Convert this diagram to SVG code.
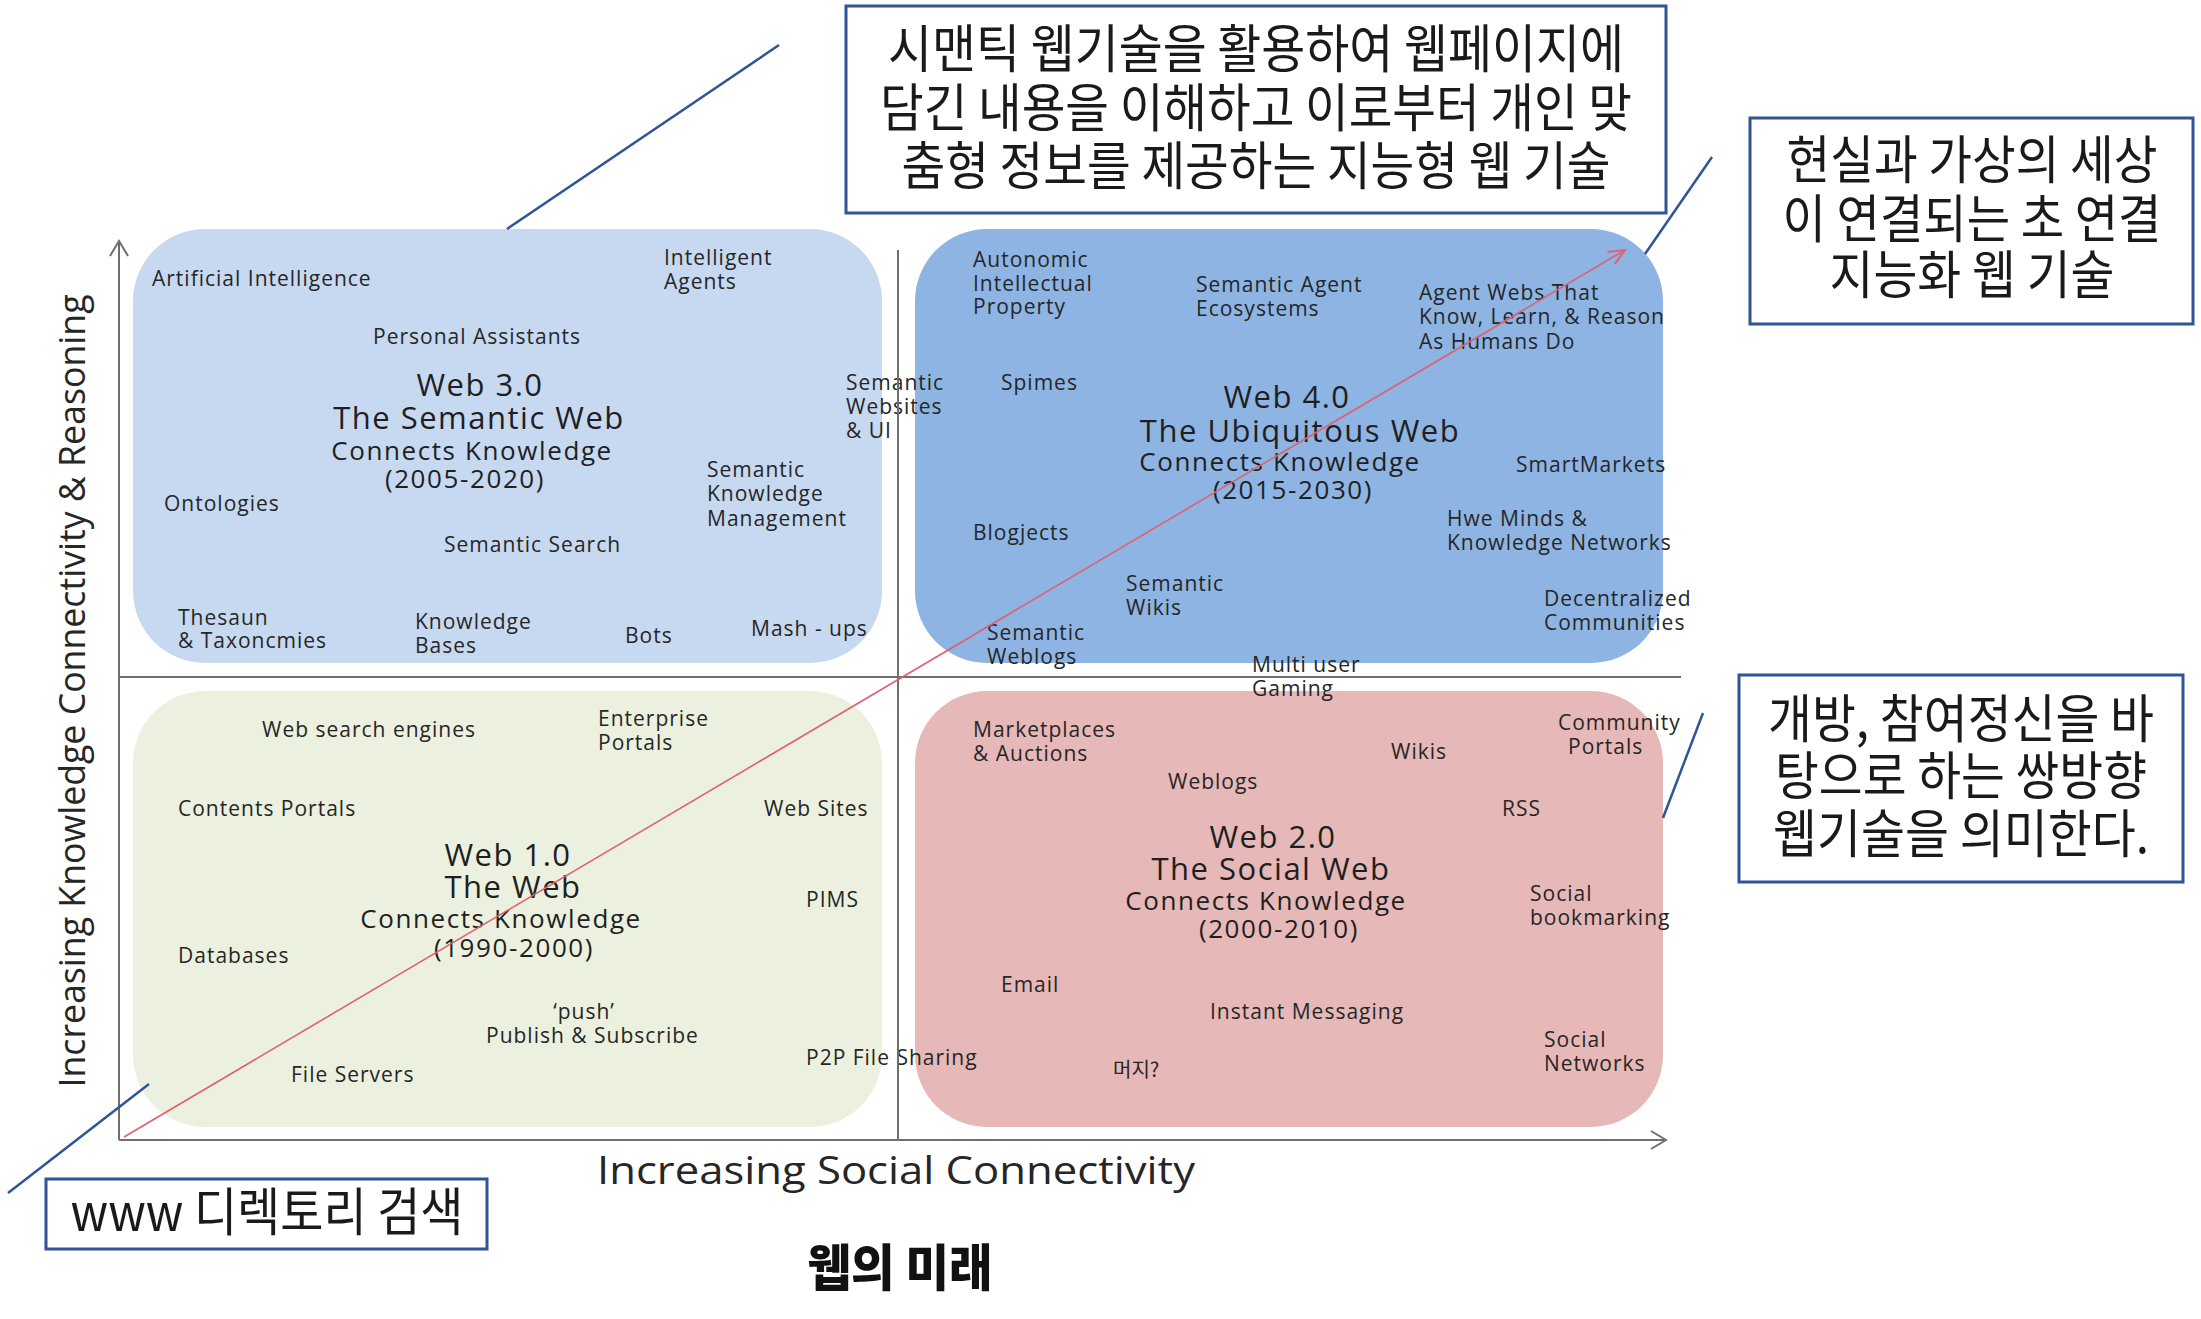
<svg xmlns="http://www.w3.org/2000/svg" width="2201" height="1319" viewBox="0 0 2201 1319">
<style>
.lbl{font-family:"Open Sans","Liberation Sans",sans-serif;font-size:21px;letter-spacing:1px;fill:#262626}
.kl{font-family:"Noto Sans CJK KR",sans-serif;font-size:20px;fill:#262626}
.t1{font-family:"Open Sans","Liberation Sans",sans-serif;font-size:31px;letter-spacing:1.5px;fill:#1f1f1f;text-anchor:middle}
.t2{font-family:"Open Sans","Liberation Sans",sans-serif;font-size:26px;letter-spacing:1.6px;fill:#1f1f1f;text-anchor:middle}
.ax{font-family:"Open Sans","Liberation Sans",sans-serif;fill:#262626;text-anchor:middle}
.co{font-family:"Noto Sans CJK KR",sans-serif;font-size:52px;fill:#1a1a1a;text-anchor:middle}
.cbox{fill:#ffffff;stroke:#2f5597;stroke-width:3}
.cl{stroke:#2f5597;stroke-width:2.5;fill:none}
.axis{stroke:#6f6f6f;stroke-width:2;fill:none}
</style>
<defs>
<marker id="redarrow" viewBox="0 0 20 20" refX="18" refY="10" markerWidth="20" markerHeight="20" markerUnits="userSpaceOnUse" orient="auto">
<path d="M2,3 L18,10 L2,17" fill="none" stroke="#e06070" stroke-width="2"/>
</marker>
</defs>
<rect width="2201" height="1319" fill="#ffffff"/>

<g id="web40">
<rect x="915" y="229" width="748" height="434" rx="72" fill="#8db4e2"/>
<text class="lbl" x="973" y="267">Autonomic</text>
<text class="lbl" x="973" y="291">Intellectual</text>
<text class="lbl" x="973" y="314">Property</text>
<text class="lbl" x="1196" y="292">Semantic Agent</text>
<text class="lbl" x="1196" y="316">Ecosystems</text>
<text class="lbl" x="1419" y="300">Agent Webs  That</text>
<text class="lbl" x="1419" y="324">Know,  Learn,  &amp; Reason</text>
<text class="lbl" x="1419" y="349">As Humans  Do</text>
<text class="lbl" x="1001" y="390">Spimes</text>
<text class="t1" x="1287" y="408">Web 4.0</text>
<text class="t1" x="1300" y="442">The  Ubiquitous  Web</text>
<text class="t2" x="1280" y="471">Connects  Knowledge</text>
<text class="t2" x="1293" y="499">(2015-2030)</text>
<text class="lbl" x="1516" y="472">SmartMarkets</text>
<text class="lbl" x="973" y="540">Blogjects</text>
<text class="lbl" x="1447" y="526">Hwe  Minds  &amp;</text>
<text class="lbl" x="1447" y="550">Knowledge  Networks</text>
<text class="lbl" x="1126" y="591">Semantic</text>
<text class="lbl" x="1126" y="615">Wikis</text>
<text class="lbl" x="1544" y="606">Decentralized</text>
<text class="lbl" x="1544" y="630">Communities</text>
<text class="lbl" x="987" y="640">Semantic</text>
<text class="lbl" x="987" y="664">Weblogs</text>
</g>

<g id="web20">
<rect x="915" y="691" width="748" height="436" rx="72" fill="#e6b8b7"/>
<text class="lbl" x="973" y="737">Marketplaces</text>
<text class="lbl" x="973" y="761">&amp; Auctions</text>
<text class="lbl" x="1391" y="759">Wikis</text>
<text class="lbl" x="1558" y="730">Community</text>
<text class="lbl" x="1568" y="754">Portals</text>
<text class="lbl" x="1168" y="789">Weblogs</text>
<text class="lbl" x="1502" y="816">RSS</text>
<text class="t1" x="1273" y="848">Web 2.0</text>
<text class="t1" x="1271" y="880">The  Social  Web</text>
<text class="t2" x="1266" y="910">Connects  Knowledge</text>
<text class="t2" x="1279" y="938">(2000-2010)</text>
<text class="lbl" x="1530" y="901">Social</text>
<text class="lbl" x="1530" y="925">bookmarking</text>
<text class="lbl" x="1001" y="992">Email</text>
<text class="lbl" x="1210" y="1019">Instant  Messaging</text>
<text class="lbl" x="1544" y="1047">Social</text>
<text class="lbl" x="1544" y="1071">Networks</text>
<text class="kl" x="1113" y="1077">머지?</text>
</g>

<g id="web30">
<rect x="133" y="229" width="749" height="434" rx="72" fill="#c6d9f0"/>
<text class="lbl" x="152" y="286">Artificial Intelligence</text>
<text class="lbl" x="664" y="265">Intelligent</text>
<text class="lbl" x="664" y="289">Agents</text>
<text class="lbl" x="373" y="344">Personal  Assistants</text>
<text class="t1" x="480" y="396">Web 3.0</text>
<text class="t1" x="479" y="429">The  Semantic  Web</text>
<text class="t2" x="472" y="460">Connects  Knowledge</text>
<text class="t2" x="465" y="488">(2005-2020)</text>
<text class="lbl" x="164" y="511">Ontologies</text>
<text class="lbl" x="444" y="552">Semantic Search</text>
<text class="lbl" x="707" y="477">Semantic</text>
<text class="lbl" x="707" y="501">Knowledge</text>
<text class="lbl" x="707" y="526">Management</text>
<text class="lbl" x="846" y="390">Semantic</text>
<text class="lbl" x="846" y="414">Websites</text>
<text class="lbl" x="846" y="438">&amp; UI</text>
<text class="lbl" x="178" y="625">Thesaun</text>
<text class="lbl" x="178" y="648">&amp; Taxoncmies</text>
<text class="lbl" x="415" y="629">Knowledge</text>
<text class="lbl" x="415" y="653">Bases</text>
<text class="lbl" x="625" y="643">Bots</text>
<text class="lbl" x="751" y="636">Mash  -  ups</text>
</g>

<g id="web10">
<rect x="133" y="691" width="749" height="436" rx="72" fill="#ebf1de"/>
<text class="lbl" x="262" y="737">Web search  engines</text>
<text class="lbl" x="598" y="726">Enterprise</text>
<text class="lbl" x="598" y="750">Portals</text>
<text class="lbl" x="178" y="816">Contents  Portals</text>
<text class="lbl" x="764" y="816">Web Sites</text>
<text class="t1" x="508" y="866">Web 1.0</text>
<text class="t1" x="513" y="898">The  Web</text>
<text class="t2" x="501" y="928">Connects  Knowledge</text>
<text class="t2" x="514" y="957">(1990-2000)</text>
<text class="lbl" x="806" y="907">PIMS</text>
<text class="lbl" x="178" y="963">Databases</text>
<text class="lbl" x="584" y="1019" text-anchor="middle">‘push’</text>
<text class="lbl" x="486" y="1043">Publish  &amp;  Subscribe</text>
<text class="lbl" x="806" y="1065">P2P File Sharing</text>
<text class="lbl" x="291" y="1082">File Servers</text>
</g>

<g id="axes">
<line class="axis" x1="119" y1="1140" x2="119" y2="242"/>
<path class="axis" d="M110,256 L119,241 L128,256"/>
<line class="axis" x1="119" y1="1140" x2="1665" y2="1140"/>
<path class="axis" d="M1651,1131 L1666,1140 L1651,1149"/>
<line class="axis" x1="898" y1="250" x2="898" y2="1140"/>
<line class="axis" x1="119" y1="677" x2="1681" y2="677"/>
<text class="ax" font-size="37" transform="translate(85,691) rotate(-90)" textLength="793" lengthAdjust="spacingAndGlyphs">Increasing Knowledge Connectivity &amp; Reasoning</text>
<text class="ax" font-size="39" x="896" y="1184" textLength="598" lengthAdjust="spacingAndGlyphs">Increasing Social Connectivity</text>
</g>

<g id="multiuser">
<text class="lbl" x="1252" y="672">Multi user</text>
<text class="lbl" x="1252" y="696">Gaming</text>
</g>

<g id="trend">
<line x1="124" y1="1137" x2="1625" y2="250" stroke="#e06070" stroke-width="1.6" marker-end="url(#redarrow)"/>
</g>

<g id="callout-web3">
<rect class="cbox" x="846" y="6" width="820" height="207"/>
<text class="co" x="1256" y="68" textLength="736" lengthAdjust="spacingAndGlyphs">시맨틱 웹기술을 활용하여 웹페이지에</text>
<text class="co" x="1256" y="127" textLength="752" lengthAdjust="spacingAndGlyphs">담긴 내용을 이해하고 이로부터 개인 맞</text>
<text class="co" x="1256" y="185" textLength="709" lengthAdjust="spacingAndGlyphs">춤형 정보를 제공하는 지능형 웹 기술</text>
</g>

<g id="callout-web4">
<rect class="cbox" x="1750" y="118" width="443" height="206"/>
<text class="co" x="1972" y="179" textLength="371" lengthAdjust="spacingAndGlyphs">현실과 가상의 세상</text>
<text class="co" x="1972" y="238" textLength="379" lengthAdjust="spacingAndGlyphs">이 연결되는 초 연결</text>
<text class="co" x="1972" y="294" textLength="285" lengthAdjust="spacingAndGlyphs">지능화 웹 기술</text>
</g>

<g id="callout-web2">
<rect class="cbox" x="1739" y="675" width="444" height="207"/>
<text class="co" x="1961" y="738" textLength="386" lengthAdjust="spacingAndGlyphs">개방, 참여정신을 바</text>
<text class="co" x="1961" y="795" textLength="372" lengthAdjust="spacingAndGlyphs">탕으로 하는 쌍방향</text>
<text class="co" x="1961" y="853" textLength="376" lengthAdjust="spacingAndGlyphs">웹기술을 의미한다.</text>
</g>

<g id="callout-web1">
<rect class="cbox" x="46" y="1179" width="441" height="70"/>
<text class="co" x="267" y="1231" font-size="50" textLength="393" lengthAdjust="spacingAndGlyphs">www 디렉토리 검색</text>
</g>

<g id="title">
<text x="900" y="1286" font-family="'Noto Sans CJK KR',sans-serif" font-size="50" font-weight="900" fill="#111111" text-anchor="middle" textLength="185" lengthAdjust="spacingAndGlyphs">웹의 미래</text>
</g>

<g id="connectors">
<line class="cl" x1="779" y1="45" x2="507" y2="229"/>
<line class="cl" x1="1712" y1="157" x2="1645" y2="254"/>
<line class="cl" x1="1703" y1="713" x2="1663" y2="818"/>
<line class="cl" x1="149" y1="1084" x2="8" y2="1193"/>
</g>
</svg>
